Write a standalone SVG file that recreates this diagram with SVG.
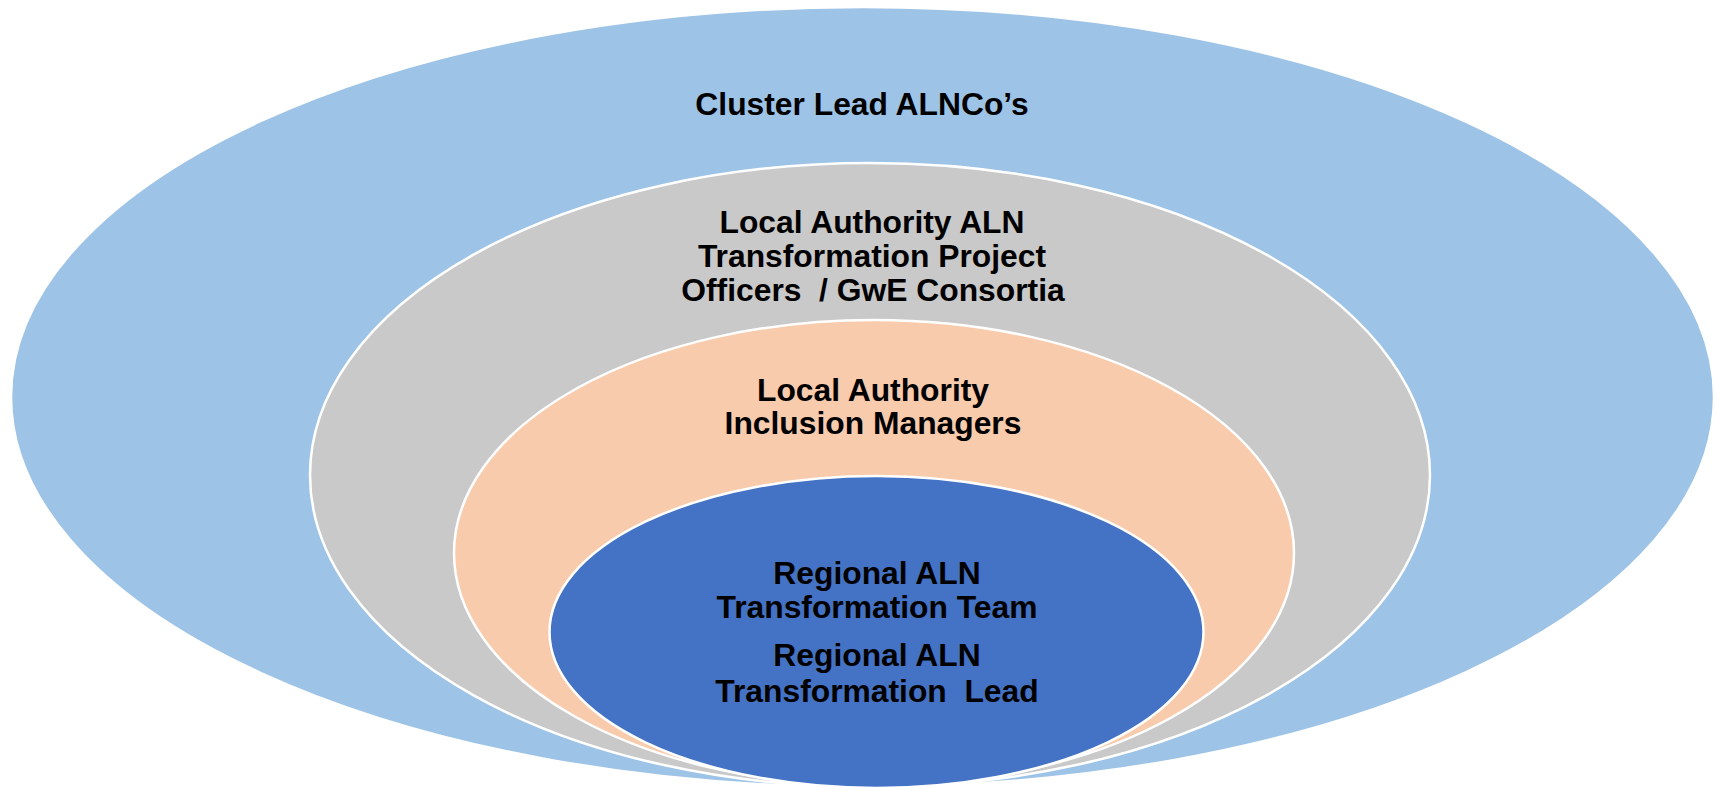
<svg xmlns="http://www.w3.org/2000/svg" width="1717" height="787" viewBox="0 0 1717 787">
<style>
ellipse{stroke:#FFFFFF;stroke-width:2.5}
text{font-family:"Liberation Sans",Arial,sans-serif;font-weight:bold;font-size:31.8px;fill:#000000;text-anchor:middle}
</style>
<rect width="1717" height="787" fill="#FFFFFF"/>
<g id="cluster-lead">
<ellipse cx="862.5" cy="397" rx="851.5" ry="390" fill="#9DC3E6" stroke="none"/>
<text x="862" y="115">Cluster Lead ALNCo’s</text>
</g>
<g id="la-officers">
<ellipse cx="870" cy="475" rx="560" ry="312" fill="#C9C9C9"/>
<text x="872" y="233">Local Authority ALN</text>
<text x="872" y="267">Transformation Project</text>
<text x="873" y="301" xml:space="preserve">Officers  / GwE Consortia</text>
</g>
<g id="inclusion-managers">
<ellipse cx="874" cy="553" rx="420" ry="233" fill="#F8CBAD"/>
<text x="873" y="401">Local Authority</text>
<text x="873" y="434">Inclusion Managers</text>
</g>
<g id="regional-team">
<ellipse cx="876.5" cy="632" rx="327" ry="156" fill="#4472C4"/>
<text x="877" y="584">Regional ALN</text>
<text x="877" y="618">Transformation Team</text>
<text x="877" y="666">Regional ALN</text>
<text x="877" y="702" xml:space="preserve">Transformation  Lead</text>
</g>
<g id="connectors"/>
</svg>
